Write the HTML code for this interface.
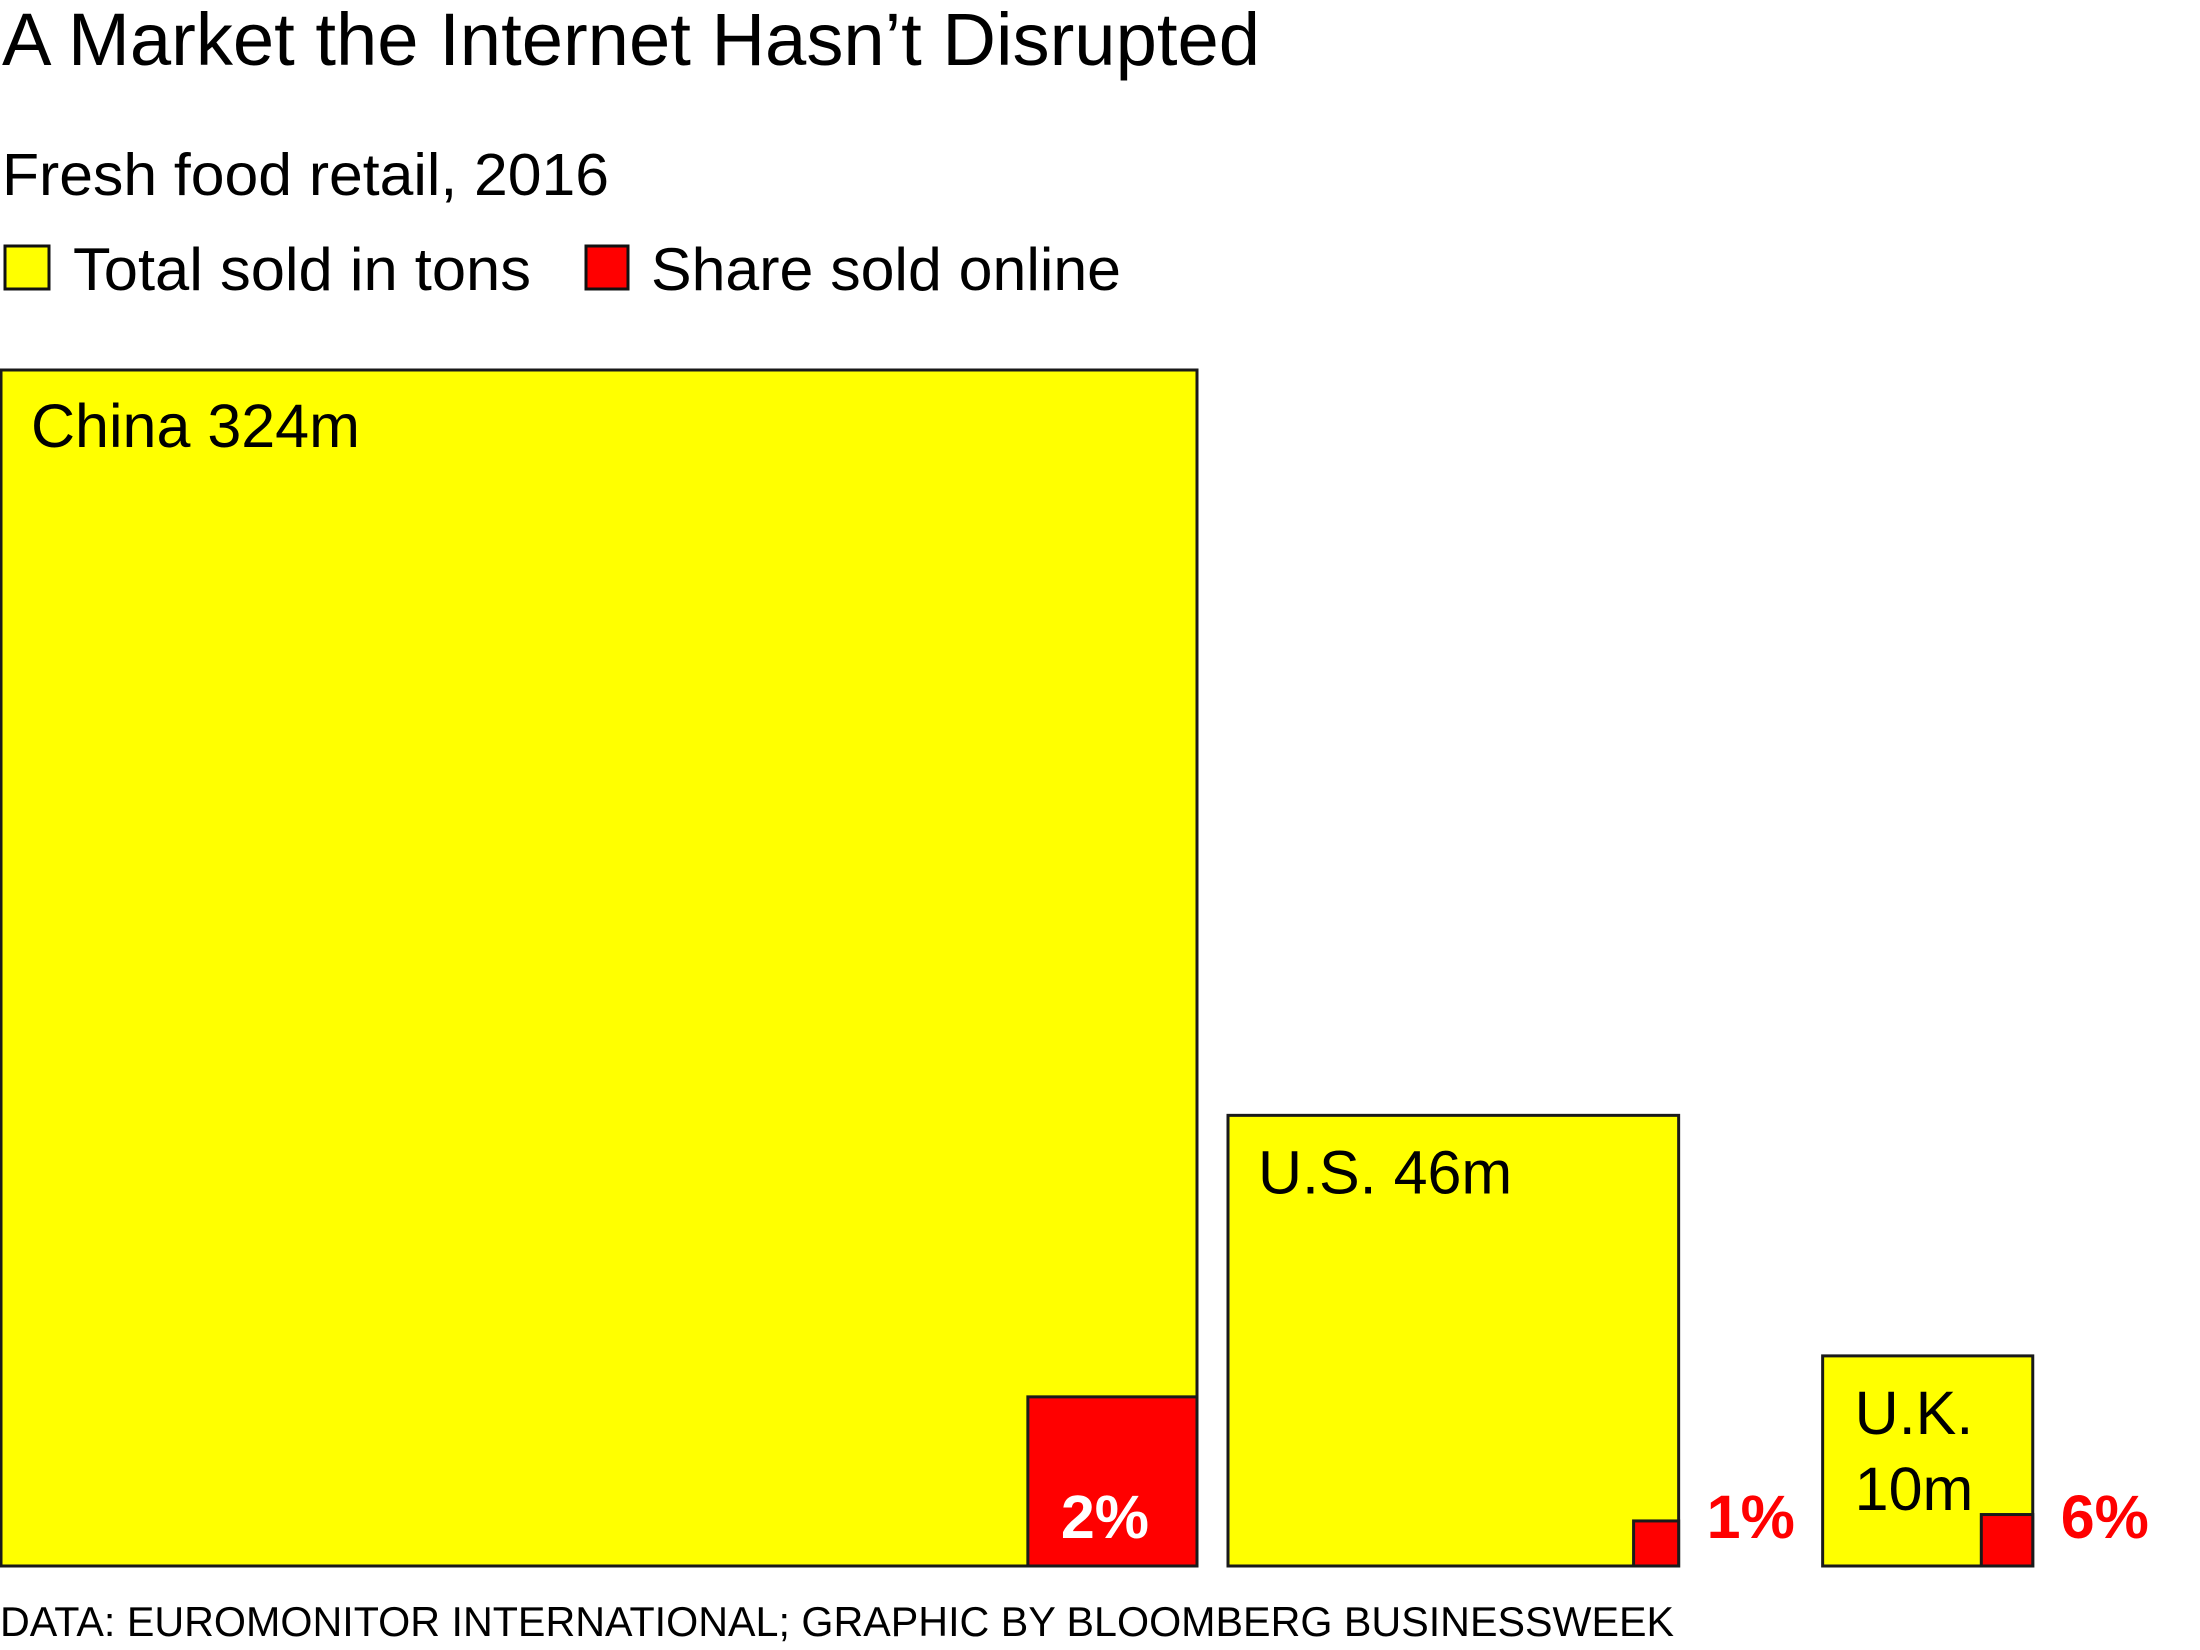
<!DOCTYPE html>
<html><head><meta charset="utf-8"><style>
html,body{margin:0;padding:0;background:#fff;}
svg{display:block;font-family:"Liberation Sans",Arial,sans-serif;}
</style></head><body>
<svg id="chart" width="2200" height="1650" viewBox="0 0 2200 1650" xmlns="http://www.w3.org/2000/svg">
<text x="2" y="65" font-size="74" textLength="1258" lengthAdjust="spacingAndGlyphs">A Market the Internet Hasn’t Disrupted</text>
<text x="2" y="195" font-size="59" textLength="607" lengthAdjust="spacingAndGlyphs">Fresh food retail, 2016</text>
<g>
<rect x="5" y="246" width="44" height="43" fill="#ffff00" stroke="#111" stroke-width="3"/>
<text x="73" y="290" font-size="60" textLength="458" lengthAdjust="spacingAndGlyphs">Total sold in tons</text>
<rect x="586" y="246" width="42" height="43" fill="#ff0000" stroke="#111" stroke-width="3"/>
<text x="651" y="290" font-size="60" textLength="470" lengthAdjust="spacingAndGlyphs">Share sold online</text>
</g>
<g id="plot"></g>
<text x="0" y="1636" font-size="42" textLength="1674" lengthAdjust="spacingAndGlyphs">DATA: EUROMONITOR INTERNATIONAL; GRAPHIC BY BLOOMBERG BUSINESSWEEK</text>
</svg>
<script>
const countries = ["China", "U.S.", "U.K."];
const totals = [324, 46, 10];
const shares = [2, 1, 6];
const totalLabels = ["China 324m", "U.S. 46m", "U.K.|10m"];

const NS = "http://www.w3.org/2000/svg";
const plot = document.getElementById("plot");
const baseY = 1566;
const maxSide = 1196;
const side = v => maxSide * Math.sqrt(v / totals[0]);
const innerSide = (s, pct) => s * Math.sqrt(pct / 100);
const gaps = [31, 144];
let x = 1;
function mk(tag, attrs) { const e = document.createElementNS(NS, tag); for (const k in attrs) e.setAttribute(k, attrs[k]); return e; }
countries.forEach((c, i) => {
  const s = side(totals[i]);
  const key = c.toLowerCase().replace(/\./g, "");
  const box = mk("rect", {x: x, y: baseY - s, width: s, height: s, fill: "#ffff00", stroke: "#1a1a1a", "stroke-width": 3});
  
  
  plot.appendChild(box);
  const r = innerSide(s, shares[i]);
  const red = mk("rect", {x: x + s - r, y: baseY - r, width: r, height: r, fill: "#ff0000", stroke: "#1a1a1a", "stroke-width": 3});
  
  
  plot.appendChild(red);
  const lines = totalLabels[i].split("|");
  lines.forEach((ln, j) => {
    const t = mk("text", {x: x + (i === 2 ? 32 : 30), y: baseY - s + (i === 0 ? 77 : 78) + j * 76, "font-size": 61});
    t.textContent = ln;
    
    
    plot.appendChild(t);
  });
  const pctText = shares[i] + "%";
  let px, fill;
  if (r > 100) { px = x + s - r + 33; fill = "#ffffff"; } else { px = x + s + 28; fill = "#ff0000"; }
  const pt = mk("text", {x: px, y: baseY - 28, "font-size": 61, "font-weight": "bold", fill: fill});
  pt.textContent = pctText;
  
  
  plot.appendChild(pt);
  x += s + (gaps[i] || 0);
});
</script>
</body></html>
